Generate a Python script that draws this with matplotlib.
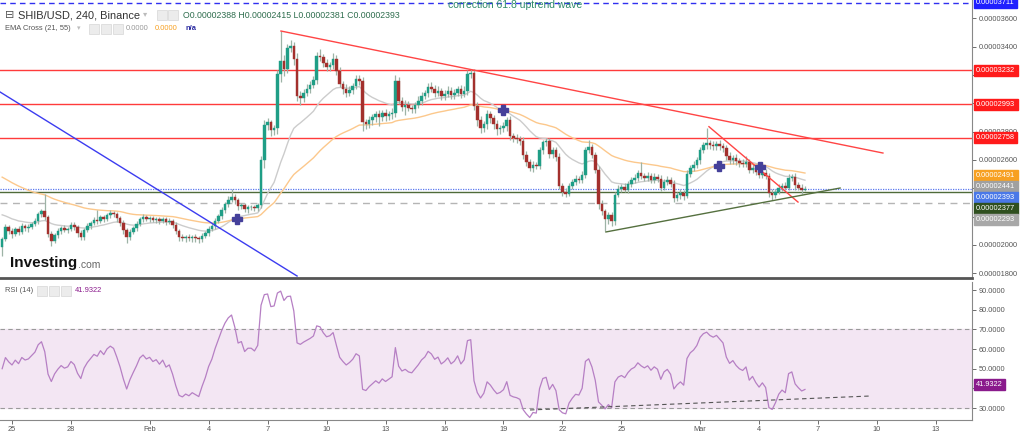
import numpy as np
import matplotlib
matplotlib.use('Agg')
import matplotlib.pyplot as plt
from matplotlib.patches import Rectangle

plt.rcParams['font.family'] = ['Liberation Sans', 'DejaVu Sans']

# SHIB/USD 4h candles, prices in units of 1e-8 USD
first_open = 1985
closes = [
    2042, 2125, 2097, 2077, 2111, 2090,
    2132, 2118, 2125, 2146, 2167, 2216,
    2237, 2195, 2077, 2028, 2070, 2097,
    2118, 2104, 2111, 2139, 2125, 2083,
    2056, 2104, 2132, 2153, 2174, 2167,
    2195, 2181, 2209, 2223, 2216, 2188,
    2153, 2104, 2056, 2090, 2118, 2146,
    2181, 2195, 2181, 2188, 2174, 2181,
    2167, 2181, 2160, 2167, 2139, 2097,
    2056, 2049, 2056, 2049, 2056, 2049,
    2042, 2063, 2083, 2111, 2132, 2167,
    2202, 2244, 2286, 2321, 2342, 2314,
    2272, 2279, 2251, 2265, 2265, 2258,
    2279, 2600, 2844, 2865, 2809, 2823,
    3207, 3298, 3242, 3389, 3405, 3312,
    3054, 3040, 3075, 3103, 3130, 3165,
    3333, 3326, 3284, 3256, 3270, 3312,
    3228, 3137, 3103, 3075, 3096, 3124,
    3172, 3158, 2865, 2851, 2879, 2900,
    2921, 2900, 2928, 2907, 2921, 2935,
    3158, 3019, 2977, 2991, 2970, 2963,
    2991, 3019, 3054, 3075, 3117, 3103,
    3075, 3089, 3054, 3068, 3089, 3061,
    3075, 3103, 3068, 3089, 3207, 3214,
    2984, 2879, 2823, 2851, 2921, 2893,
    2851, 2816, 2823, 2837, 2879, 2768,
    2754, 2747, 2733, 2635, 2586, 2544,
    2565, 2558, 2670, 2726, 2733, 2642,
    2670, 2621, 2419, 2377, 2363, 2419,
    2446, 2467, 2460, 2495, 2670, 2691,
    2635, 2530, 2286, 2237, 2181, 2209,
    2167, 2356, 2398, 2412, 2391, 2432,
    2460, 2474, 2509, 2488, 2474, 2488,
    2460, 2481, 2467, 2405, 2446, 2460,
    2432, 2335, 2356, 2370, 2349, 2502,
    2544, 2565, 2600, 2670, 2705, 2719,
    2705, 2698, 2712, 2698, 2684, 2628,
    2600, 2614, 2593, 2579, 2572, 2586,
    2530, 2544, 2516, 2495, 2509, 2488,
    2370, 2356, 2377, 2405, 2419, 2405,
    2474, 2481, 2425, 2405, 2388, 2393,
]
wick_up = [
    15, 20, 15, 20, 15, 20,  20, 15, 20, 15, 25, 20,
    20, 120, 15, 20, 15, 20,  15, 20, 15, 20, 25, 15,
    20, 15, 20, 15, 20, 70,  20, 15, 20, 25, 20, 15,
    15, 20, 15, 20, 15, 20,  20, 25, 20, 15, 20, 15,
    15, 20, 15, 20, 15, 20,  15, 20, 15, 20, 15, 20,
    15, 20, 15, 20, 20, 25,  20, 25, 20, 25, 50, 20,
    15, 20, 15, 20, 15, 20,  15, 25, 40, 30, 20, 25,
    30, 210, 40, 30, 40, 30,  40, 30, 25, 30, 25, 30,
    30, 50, 25, 30, 20, 40,  30, 25, 20, 30, 25, 20,
    25, 30, 30, 25, 30, 25,  25, 30, 25, 30, 25, 30,
    40, 30, 25, 30, 25, 20,  20, 30, 25, 20, 25, 30,
    25, 30, 20, 25, 30, 25,  25, 20, 25, 30, 25, 30,
    30, 25, 30, 25, 30, 25,  25, 30, 25, 30, 25, 30,
    25, 30, 25, 30, 25, 20,  25, 20, 25, 15, 20, 25,
    25, 20, 25, 20, 25, 20,  20, 25, 20, 25, 20, 50,
    25, 20, 25, 30, 20, 25,  25, 20, 25, 20, 25, 20,
    20, 25, 20, 77, 20, 25,  20, 25, 20, 25, 20, 25,
    20, 25, 20, 25, 20, 25,  20, 25, 20, 25, 20, 110,
    25, 30, 25, 30, 25, 20,  25, 20, 25, 20, 25, 40,
    20, 25, 20, 25, 20, 25,  20, 25, 20, 25, 20, 25,
    25, 20, 25, 20, 25, 22,
]
wick_dn = [
    60, 15, 20, 25, 15, 20,  15, 20, 25, 15, 15, 20,
    20, 20, 20, 35, 15, 20,  20, 15, 20, 15, 20, 25,
    20, 20, 15, 20, 15, 20,  15, 20, 15, 20, 15, 25,
    20, 25, 40, 20, 15, 20,  15, 20, 15, 20, 15, 20,
    20, 15, 20, 15, 20, 20,  25, 20, 25, 20, 25, 30,
    25, 20, 15, 20, 15, 20,  15, 20, 20, 15, 20, 25,
    25, 20, 20, 25, 20, 20,  20, 15, 60, 30, 40, 35,
    40, 60, 50, 30, 30, 40,  40, 50, 30, 25, 30, 25,
    30, 25, 30, 25, 30, 25,  30, 25, 40, 30, 25, 30,
    20, 30, 60, 30, 25, 30,  30, 60, 25, 30, 25, 30,
    30, 25, 30, 60, 25, 30,  30, 25, 30, 25, 30, 25,
    30, 25, 30, 30, 25, 30,  30, 25, 30, 25, 30, 25,
    30, 40, 30, 25, 30, 30,  30, 40, 30, 25, 30, 25,
    30, 25, 30, 25, 30, 25,  30, 25, 20, 25, 30, 25,
    25, 30, 25, 30, 25, 20,  25, 20, 25, 20, 25, 20,
    20, 25, 30, 25, 84, 30,  30, 25, 20, 25, 20, 25,
    20, 25, 20, 25, 20, 25,  20, 25, 20, 25, 20, 25,
    20, 30, 25, 30, 35, 20,  20, 25, 20, 25, 20, 25,
    25, 30, 25, 30, 25, 30,  25, 30, 25, 30, 25, 20,
    25, 20, 25, 20, 25, 20,  30, 40, 25, 20, 25, 20,
    20, 25, 40, 20, 25, 7,
]

# time axis: days counted from Jan 25
start_day = -0.5
tick_days = [0, 3, 7, 10, 13, 16, 19, 22, 25, 28, 31, 35, 38, 41, 44, 47]
tick_labels = ['25', '28', 'Feb', '4', '7', '10', '13', '16', '19', '22', '25',
               'Mar', '4', '7', '10', '13']

# levels
red_levels = [3232, 2993, 2758]
fib_level = 3711
last_price = 2393
green_level = 2377
gray_level = 2293
ema_fast_last = 2441
ema_slow_last = 2491
ema_fast_seed = 2230
ema_slow_seed = 2495
rsi_last = 41.9322
ohlc = ['0.00002388', '0.00002415', '0.00002381', '0.00002393']

# drawn trend lines (day, price)
resist_days, resist_px = [13.68, 44.3], [3510, 2649]
steep_days, steep_px = [35.45, 39.98], [2835, 2303]
support_days, support_px = [30.21, 42.12], [2092, 2402]
blue_days, blue_px = [-0.61, 14.5], [3080, 1781]
cross_days = [11.44, 24.97, 35.96, 38.05]
cross_px = [2184, 2953, 2557, 2550]
rsi_tl_days, rsi_tl_vals = [26.35, 43.64], [29.0, 36.1]

# axis labels hidden under the price tags
hidden_ticks = [2200, 2400, 3000]


def ema(vals, n, seed):
    a = 2 / (n + 1)
    v = seed
    out = []
    for x in vals:
        v = v + a * (x - v)
        out.append(v)
    return np.array(out)


def rsi(vals, n=14, seed=25.0):
    g = l = seed
    out = [50.0]
    for a, b in zip(vals[:-1], vals[1:]):
        d = b - a
        g = (g * (n - 1) + max(d, 0)) / n
        l = (l * (n - 1) + max(-d, 0)) / n
        out.append(100 - 100 / (1 + g / l))
    return np.array(out)


W, H = 1024, 434
def fx(px):
    return px / W
def fy(py):
    return 1 - py / H

fig = plt.figure(figsize=(10.24, 4.34), dpi=100)
ax = fig.add_axes([0, fy(278), fx(972), fy(0) - fy(278)])
ax2 = fig.add_axes([0, fy(420), fx(972), fy(282) - fy(420)])

xlim = (-0.61, 48.83)
c = np.array(closes, dtype=float)
o = np.array([first_open] + closes[:-1], dtype=float)
days = start_day + np.arange(len(c)) / 6
hi = np.maximum(o, c) + np.array(wick_up)
lo = np.minimum(o, c) - np.array(wick_dn)
up = c >= o
body = np.where(np.abs(c - o) < 4, 4, c - o)

up_col, dn_col, wick_col = '#1f9e86', '#a3302d', '#9db3a6'
ax.vlines(days, lo, hi, color=wick_col, lw=0.9, zorder=3)
ax.bar(days[up], body[up], bottom=o[up], width=0.13, color=up_col,
       edgecolor=up_col, lw=0.3, zorder=4)
ax.bar(days[~up], body[~up], bottom=o[~up], width=0.13, color=dn_col,
       edgecolor=dn_col, lw=0.3, zorder=4)

ax.plot(days, ema(c, 21, ema_fast_seed), color='#cccccc', lw=1, zorder=2)
ax.plot(days, ema(c, 55, ema_slow_seed), color='#fcc88c', lw=1, zorder=2)

for lv in red_levels:
    ax.axhline(lv, color='#ff3b3b', lw=1, zorder=1)
ax.axhline(fib_level, color='#3030f0', lw=1, ls=(0, (4, 3)), zorder=1)
ax.axhline(last_price, color='#5a78f0', lw=0.9, ls=(0, (1, 1)), zorder=1)
ax.axhline(green_level, color='#4f6b3a', lw=1, zorder=1)
ax.axhline(gray_level, color='#b5b5b5', lw=1, ls=(0, (5, 4)), zorder=1)

ax.plot(resist_days, resist_px, color='#ff4545', lw=1, zorder=5)
ax.plot(steep_days, steep_px, color='#ff4545', lw=1, zorder=5)
ax.plot(support_days, support_px, color='#55703f', lw=1, zorder=5)
ax.plot(blue_days, blue_px, color='#3c3cf0', lw=1, zorder=5)
ax.plot(cross_days, cross_px, ls='none', marker='P', ms=7, color='#45409a', zorder=6)

ax.text(25.6, 3697, 'correction 61.8 uptrend wave', ha='center', va='center',
        fontsize=7.5, color='#2e8a6a', zorder=6)

ax.set_xlim(*xlim)
ax.set_ylim(1767, 3729)
ax.yaxis.tick_right()
ax.set_yticks(range(1800, 3701, 200))
ax.yaxis.set_major_formatter(plt.FuncFormatter(
    lambda v, p: '' if round(v) in hidden_ticks else f'0.0000{v:04.0f}'))
ax.tick_params(axis='y', labelsize=5.3, colors='#555555', length=3, width=0.6, pad=2)
ax.set_xticks([])
for s in ['top', 'left']:
    ax.spines[s].set_visible(False)
ax.spines['right'].set_color('#888888')
ax.spines['bottom'].set_color('#555555')
ax.spines['bottom'].set_linewidth(2)


def tag(axis, y, text, color, tcolor='white'):
    axis.annotate(text, xy=(1, y), xycoords=('axes fraction', 'data'),
                  xytext=(3, 0), textcoords='offset points', va='center', ha='left',
                  fontsize=5.3, color=tcolor, annotation_clip=False, zorder=20,
                  bbox=dict(boxstyle='square,pad=0.3', fc=color, ec=color))


tag(ax, fib_level, f'0.0000{fib_level}', '#1f1fff')
for lv in red_levels:
    tag(ax, lv, f'0.0000{lv}', '#ff1a1a')

cluster = [(ema_slow_last, '#f7a021'), (ema_fast_last, '#a0a0a0'),
           (last_price, '#4a78e8'), (green_level, '#2f4f1f'), (gray_level, '#a8a8a8')]
prev = None
for val, col in cluster:
    pos = val if prev is None else min(val, prev - 78)
    tag(ax, pos, f'0.0000{val}', col)
    prev = pos

# RSI panel
r = rsi(c)
ax2.axhspan(30, 70, color='#f3e6f3', zorder=0)
ax2.axhline(30, color='#9a9a9a', lw=0.8, ls=(0, (4, 3)))
ax2.axhline(70, color='#9a9a9a', lw=0.8, ls=(0, (4, 3)))
ax2.plot(days, r, color='#b67fc4', lw=0.9, zorder=3)
ax2.plot(rsi_tl_days, rsi_tl_vals, color='#555555', lw=0.8, ls=(0, (4, 3)), zorder=4)
ax2.set_xlim(*xlim)
ax2.set_ylim(23.9, 94.1)
ax2.yaxis.tick_right()
ax2.set_yticks(range(30, 91, 10))
ax2.yaxis.set_major_formatter(plt.FuncFormatter(
    lambda v, p: '' if round(v) == 40 else f'{v:.4f}'))
ax2.tick_params(axis='y', labelsize=5.3, colors='#555555', length=3, width=0.6, pad=2)
ax2.set_xticks(tick_days)
ax2.set_xticklabels(tick_labels)
ax2.tick_params(axis='x', labelsize=5.3, colors='#555555', length=3, width=0.6, pad=1.5)
for s in ['top', 'left']:
    ax2.spines[s].set_visible(False)
ax2.spines['right'].set_color('#888888')
ax2.spines['bottom'].set_color('#888888')
tag(ax2, rsi_last, f'{rsi_last:.4f}', '#8a1a8c')

# headers
fig.text(fx(5), fy(15), '⊟', fontsize=8, color='#555555', va='center')
fig.text(fx(18), fy(15), 'SHIB/USD, 240, Binance', fontsize=7.9, color='#333333', va='center')
fig.text(fx(143), fy(15), '▾', fontsize=6, color='#bbbbbb', va='center')
fig.text(fx(183), fy(15), ' '.join(k + v for k, v in zip('OHLC', ohlc)),
         fontsize=6.3, color='#2f6e4e', va='center')
fig.text(fx(5), fy(29), 'EMA Cross (21, 55)', fontsize=5.4, color='#555555', va='center')
fig.text(fx(77), fy(29), '▾', fontsize=5, color='#bbbbbb', va='center')
fig.text(fx(126), fy(29), '0.0000', fontsize=5.4, color='#999999', va='center')
fig.text(fx(155), fy(29), '0.0000', fontsize=5.4, color='#f7a021', va='center')
fig.text(fx(185), fy(29), 'n/a', fontsize=5.4, color='#2a2aa0', va='center', weight='bold')
fig.text(fx(5), fy(291), 'RSI (14)', fontsize=5.4, color='#555555', va='center')
fig.text(fx(75), fy(291), f'{rsi_last:.4f}', fontsize=5.4, color='#8a1a8c', va='center')

for bx, by in [(157, 10), (168, 10), (89, 24), (101, 24), (113, 24), (37, 286), (49, 286), (61, 286)]:
    fig.patches.append(Rectangle((fx(bx), fy(by + 10)), fx(10), 10 / H, transform=fig.transFigure,
                                 fc='#ececec', ec='#d6d6d6', lw=0.5))

fig.text(fx(10), fy(263), 'Investing', fontsize=11, weight='bold', color='#111111', va='center')
fig.text(fx(78), fy(265), '.com', fontsize=7.5, color='#666666', va='center')

fig.savefig('out.png', dpi=100)
